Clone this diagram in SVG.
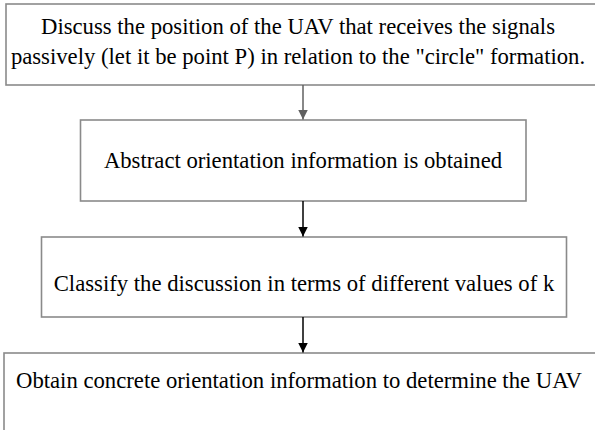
<svg xmlns="http://www.w3.org/2000/svg" width="595" height="430" viewBox="0 0 595 430">
<style>
.box{fill:#fff;stroke:#8a8a8a;stroke-width:1.6}
.t{font-family:"Liberation Serif","Times New Roman","DejaVu Serif",serif;font-size:22.7px;fill:#000;text-anchor:middle}
.c{fill:none;stroke-width:1.5}
</style>
<defs>
<marker id="ag" viewBox="0 0 10 10" refX="10" refY="5" markerWidth="10" markerHeight="10" markerUnits="userSpaceOnUse" orient="auto"><path d="M0,0L10,5L0,10z" fill="#606060"/></marker>
<marker id="ab" viewBox="0 0 10 10" refX="10" refY="5" markerWidth="10" markerHeight="10" markerUnits="userSpaceOnUse" orient="auto"><path d="M0,0L10,5L0,10z" fill="#000"/></marker>
</defs>
<rect width="595" height="430" fill="#fff"/>
<g id="n1"><rect class="box" x="6" y="4" width="600" height="81"/>
<text class="t" x="298" y="34">Discuss the position of the UAV that receives the signals</text>
<text class="t" x="298" y="64">passively (let it be point P) in relation to the "circle" formation.</text></g>
<g id="n2"><rect class="box" x="80.5" y="120" width="445.5" height="81"/>
<text class="t" x="303" y="168">Abstract orientation information is obtained</text></g>
<g id="n3"><rect class="box" x="41.5" y="237" width="525" height="80"/>
<text class="t" x="304" y="291">Classify the discussion in terms of different values of k</text></g>
<g id="n4"><rect class="box" x="4" y="353" width="600" height="90"/>
<text class="t" x="299" y="388">Obtain concrete orientation information to determine the UAV</text></g>
<g id="connectors">
<line class="c" x1="303" y1="85" x2="303" y2="119.5" stroke="#606060" marker-end="url(#ag)"/>
<line class="c" x1="303" y1="201" x2="303" y2="236.5" stroke="#000" marker-end="url(#ab)"/>
<line class="c" x1="303" y1="317" x2="303" y2="352.5" stroke="#000" marker-end="url(#ab)"/>
</g>
</svg>
